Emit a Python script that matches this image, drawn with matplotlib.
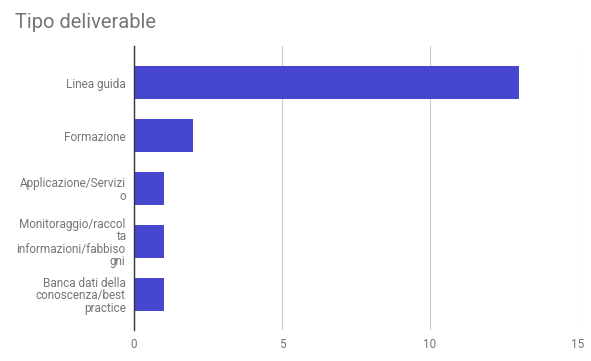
import matplotlib.pyplot as plt

categories = ['Linea guida', 'Formazione', 'Applicazione/Servizi\no',
              'Monitoraggio/raccol\nta\ninformazioni/fabbiso\ngni',
              'Banca dati della\nconoscenza/best\npractice']
values = [13, 2, 1, 1, 1]
xticks = [0, 5, 10, 15]

plt.rcParams['font.family'] = ['Roboto', 'DejaVu Sans']

fig = plt.figure(figsize=(5.91, 3.61), dpi=100)
ax = fig.add_axes([0.2267, 0.0859, 0.7513, 0.7867])

pos = list(range(len(categories)))
ax.barh(pos, values, height=0.62, color='#4646cf', zorder=3)

ax.set_ylim(len(categories) - 1 + 0.67, -0.69)
ax.set_xlim(0, 15)
ax.set_xticks(xticks)
ax.set_xticklabels([str(t) for t in xticks], color='#757575', fontsize=8.5)
ax.set_yticks(pos)
ax.set_yticklabels(categories, color='#757575', fontsize=8.5, linespacing=0.95)
ax.tick_params(axis='both', length=0, pad=6)
ax.tick_params(axis='y', pad=6)

ax.grid(axis='x', color='#cccccc', linewidth=0.8, zorder=0)
for s in ['top', 'right', 'bottom']:
    ax.spines[s].set_visible(False)
ax.spines['left'].set_color('#333333')
ax.spines['left'].set_linewidth(1)
ax.spines['left'].set_zorder(4)

fig.text(15 / 591, 1 - 22 / 361, 'Tipo deliverable', fontsize=14.5, color='#757575',
         va='center', ha='left')

plt.savefig('out.png', dpi=100)
